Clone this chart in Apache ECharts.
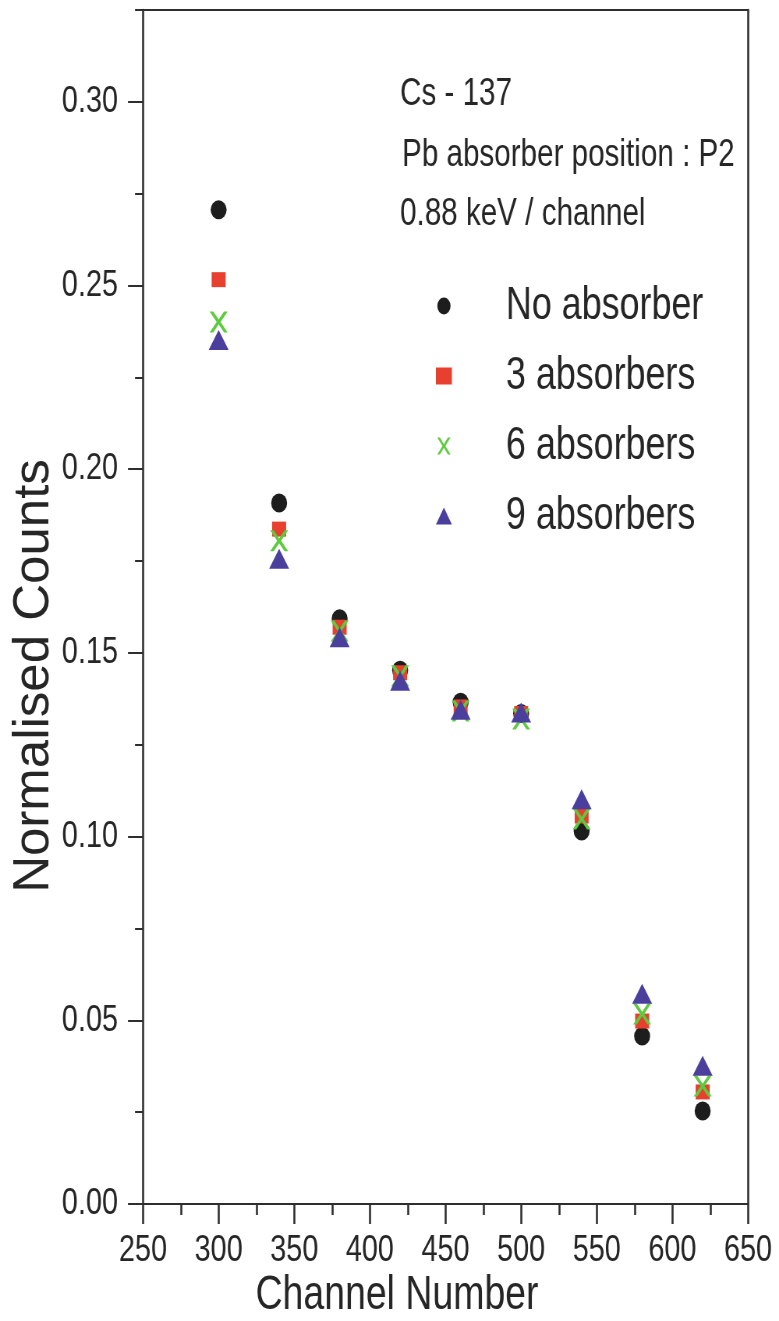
<!DOCTYPE html>
<html>
<head>
<meta charset="utf-8">
<title>Cs-137 normalised counts</title>
<script src="https://cdn.jsdelivr.net/npm/echarts@6/dist/echarts.min.js"></script>
<style>
  html, body { margin: 0; padding: 0; background: #ffffff; overflow: hidden; }
  #frame { width: 779px; height: 1321px; overflow: hidden; }
  /* The chart is laid out on a wider canvas and squeezed horizontally,
     which gives the condensed lettering and slightly tall markers. */
  #chart { width: 999px; height: 1321px; transform-origin: 0 0; }
</style>
</head>
<body>
<div id="frame"><div id="chart"></div></div>
<script>
// Channel numbers of the measured points
const channels = [300, 340, 380, 420, 460, 500, 540, 580, 620];

// Normalised counts for each absorber configuration
const noAbsorber     = [0.2706, 0.1908, 0.1593, 0.1453, 0.1366, 0.1335, 0.1015, 0.0457, 0.0253];
const threeAbsorbers = [0.2516, 0.1837, 0.1570, 0.1446, 0.1353, 0.1335, 0.1056, 0.0498, 0.0305];
const sixAbsorbers   = [0.2401, 0.1805, 0.1560, 0.1438, 0.1342, 0.1320, 0.1048, 0.0517, 0.0321];
const nineAbsorbers  = [0.2352, 0.1756, 0.1543, 0.1424, 0.1345, 0.1338, 0.1102, 0.0572, 0.0376];

const seriesNames = ['No absorber', '3 absorbers', '6 absorbers', '9 absorbers'];

// Axis ticks
const yMajorTicks = [0, 0.05, 0.10, 0.15, 0.20, 0.25, 0.30];
const yMinorTicks = [0.025, 0.075, 0.125, 0.175, 0.225, 0.275, 0.325];

// Header notes
const notes = ['Cs - 137', 'Pb absorber position : P2', '0.88 keV / channel'];

const PAGE_W = 779;
const CANVAS_W = 999;
const SQUEEZE = PAGE_W / CANVAS_W;          // horizontal compression of the drawing
const sx = v => v / SQUEEZE;                // page x-distance -> canvas x-distance

const FONT = "'Liberation Sans', Arial, Helvetica, sans-serif";
const INK = '#262626';
const AXIS = '#2e2e2e';

const crossPath = 'path://M0,0 L2,0 L5,3.9 L8,0 L10,0 L6.1,5 L10,10 L8,10 L5,6.1 L2,10 L0,10 L3.9,5 Z';

function pairs(values) {
  return channels.map((c, i) => [c, values[i]]);
}

const el = document.getElementById('chart');
el.style.transform = 'scaleX(' + SQUEEZE + ')';
const chart = echarts.init(el, null, { renderer: 'canvas', width: CANVAS_W, height: 1321 });

const vLine = sx(2);   // vertical strokes keep a 2px look after squeezing

const option = {
  backgroundColor: '#ffffff',
  animation: false,
  grid: { left: sx(143), right: sx(31), top: 10, bottom: 117 },
  xAxis: [
    {
      type: 'value', min: 250, max: 650, interval: 50,
      axisLine: { show: true, onZero: false, lineStyle: { color: AXIS, width: 2 } },
      axisTick: { show: true, inside: false, length: 20, lineStyle: { color: AXIS, width: vLine } },
      minorTick: { show: true, splitNumber: 2, length: 11, lineStyle: { color: AXIS, width: vLine } },
      splitLine: { show: false },
      minorSplitLine: { show: false },
      axisLabel: { color: INK, fontFamily: FONT, fontSize: 37, margin: 28 }
    },
    {
      type: 'value', min: 250, max: 650, position: 'top',
      axisLine: { show: true, onZero: false, lineStyle: { color: AXIS, width: 2 } },
      axisTick: { show: false }, axisLabel: { show: false }, splitLine: { show: false }
    }
  ],
  yAxis: [
    {
      type: 'value', min: 0, max: 0.325,
      axisLine: { show: true, onZero: false, lineStyle: { color: AXIS, width: vLine } },
      axisTick: { show: true, length: sx(15), customValues: yMajorTicks, lineStyle: { color: AXIS, width: 2 } },
      splitLine: { show: false },
      axisLabel: {
        customValues: yMajorTicks,
        color: INK, fontFamily: FONT, fontSize: 37, margin: sx(25),
        formatter: v => v.toFixed(2)
      }
    },
    {
      type: 'value', min: 0, max: 0.325, position: 'left',
      axisLine: { show: false },
      axisTick: { show: true, length: sx(8), customValues: yMinorTicks, lineStyle: { color: AXIS, width: 2 } },
      splitLine: { show: false },
      axisLabel: { show: false }
    },
    {
      type: 'value', min: 0, max: 0.325, position: 'right',
      axisLine: { show: true, onZero: false, lineStyle: { color: AXIS, width: vLine } },
      axisTick: { show: false }, axisLabel: { show: false }, splitLine: { show: false }
    }
  ],
  legend: {
    orient: 'vertical',
    left: sx(440) - sx(8), top: 278,
    itemWidth: sx(16), itemHeight: 17,
    itemGap: 24,
    selectedMode: false,
    data: seriesNames,
    textStyle: {
      color: INK, fontFamily: FONT, fontSize: 46,
      padding: [0, 0, 0, sx(502) - (sx(440) + sx(8)) - 5]
    }
  },
  series: [
    {
      name: seriesNames[0], type: 'scatter', data: pairs(noAbsorber),
      symbol: 'circle', symbolSize: [sx(16), 19], z: 2,
      itemStyle: { color: '#1d1d1d', opacity: 1 }
    },
    {
      name: seriesNames[1], type: 'scatter', data: pairs(threeAbsorbers),
      symbol: 'rect', symbolSize: [sx(14), 15], z: 3,
      itemStyle: { color: '#e8402f', opacity: 1 }
    },
    {
      name: seriesNames[2], type: 'scatter', data: pairs(sixAbsorbers),
      symbol: crossPath, symbolSize: [sx(18), 21], z: 4,
      itemStyle: { color: '#5ccb3d', opacity: 1 }
    },
    {
      name: seriesNames[3], type: 'scatter', data: pairs(nineAbsorbers),
      symbol: 'triangle', symbolSize: [sx(20), 20], z: 5,
      itemStyle: { color: '#4b3f9e', opacity: 1 }
    }
  ],
  graphic: [
    { type: 'text', left: sx(400), top: 76, style: { text: notes[0], fill: INK, font: '38px ' + FONT } },
    { type: 'text', left: sx(402), top: 137, style: { text: notes[1], fill: INK, font: '38px ' + FONT } },
    { type: 'text', left: sx(400), top: 196, style: { text: notes[2], fill: INK, font: '38px ' + FONT } },
    {
      type: 'text', x: sx(397), y: 1296,
      style: { text: 'Channel Number', fill: INK, font: '48px ' + FONT, align: 'center', verticalAlign: 'middle' }
    },
    {
      type: 'text', x: sx(34), y: 676, rotation: Math.PI / 2, scaleY: 1 / SQUEEZE,
      style: { text: 'Normalised Counts', fill: INK, font: '51px ' + FONT, align: 'center', verticalAlign: 'middle' }
    }
  ]
};

chart.setOption(option);
</script>
</body>
</html>
